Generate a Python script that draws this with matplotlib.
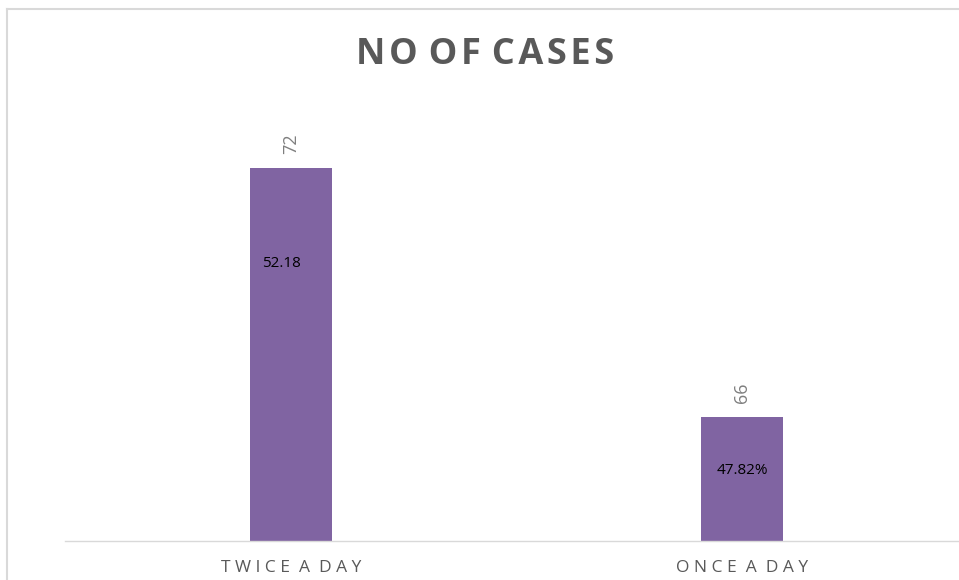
import matplotlib.pyplot as plt
from matplotlib.lines import Line2D

categories = ['TWICE A DAY', 'ONCE A DAY']
cases = [72, 66]
share_labels = ['52.18', '47.82%']
share_label_y = [69.7, 64.7]
share_label_dx = [-0.022, 0.0]

def spaced(s, gap=' ', word_gap=3):
    # letter-spaced text like the Excel chart labels
    words = [gap.join(w) for w in s.split(' ')]
    return (gap * word_gap).join(words)

def main():
    plt.rcParams['font.family'] = ['Open Sans', 'DejaVu Sans']
    fig = plt.figure(figsize=(9.59, 5.80), dpi=100)
    ax = fig.add_axes([0.0683, 0.0672, 0.9406, 0.857])

    x = range(len(categories))
    ax.bar(x, cases, width=0.182, color='#8064a2', zorder=2)
    ax.set_xlim(-0.5, 1.5)
    ax.set_ylim(63, 75)

    for xi, v in zip(x, cases):
        ax.annotate(str(v), (xi, v), xytext=(0, 10), textcoords='offset points',
                    rotation=90, ha='center', va='bottom', fontsize=13, color='#7f7f7f')
    for xi, lab, yl, dx in zip(x, share_labels, share_label_y, share_label_dx):
        ax.text(xi + dx, yl, lab, ha='center', va='center', fontsize=11, color='black')

    ax.set_xticks(list(x))
    ax.set_xticklabels([spaced(c, ' ', 2) for c in categories], fontsize=12.5, color='#595959')
    ax.tick_params(axis='x', length=0, pad=14)
    ax.set_yticks([])
    for side in ['top', 'right', 'left']:
        ax.spines[side].set_visible(False)
    ax.spines['bottom'].set_color('#d9d9d9')
    ax.spines['bottom'].set_linewidth(1)

    fig.text(0.506, 0.905, spaced('NO OF CASES', '\u200a'), ha='center', va='center',
             fontsize=26, fontweight='bold', color='#595959')

    # chart area border (left and top edges)
    fig.add_artist(Line2D([7 / 959, 7 / 959], [0, 1 - 8.5 / 580], color='#d9d9d9', lw=1.5))
    fig.add_artist(Line2D([7 / 959, 1], [1 - 8.5 / 580, 1 - 8.5 / 580], color='#d9d9d9', lw=1.5))

    fig.savefig('out.png', dpi=100)

if __name__ == '__main__':
    main()
